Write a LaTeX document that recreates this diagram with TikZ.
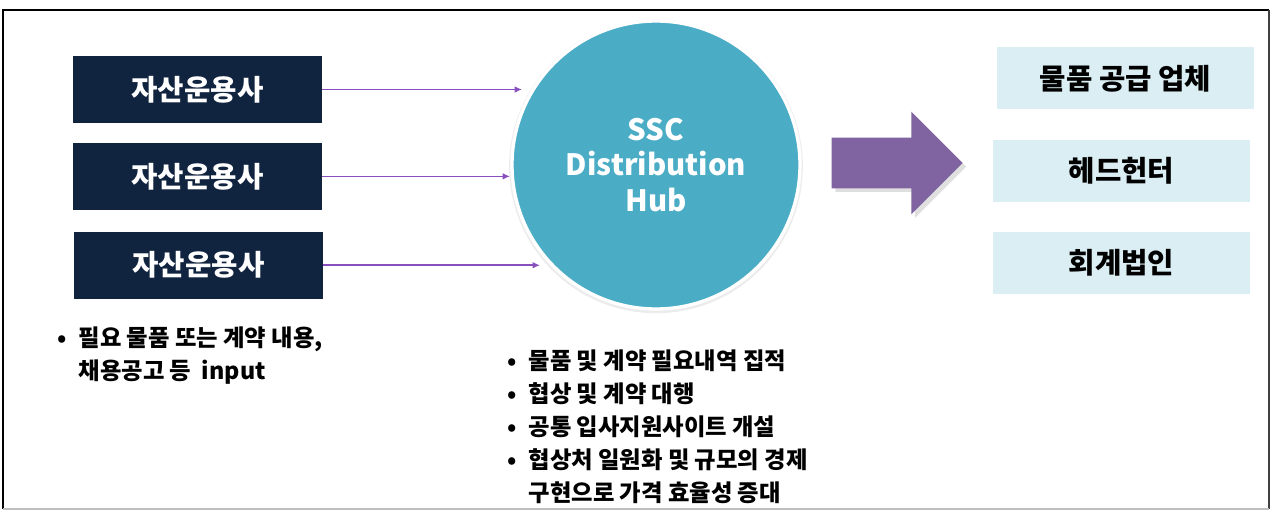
\documentclass[tikz,border=0pt]{standalone}
\usepackage{fontspec}
\setmainfont{Noto Sans CJK KR}
\usetikzlibrary{positioning, arrows.meta, shapes.arrows, shadows}
\definecolor{navy}{HTML}{10233F}
\definecolor{hubblue}{HTML}{4BACC6}
\definecolor{paleblue}{HTML}{DAEEF3}
\definecolor{linkpurple}{HTML}{8A4FBF}
\definecolor{bigpurple}{HTML}{8064A2}
\newcommand{\notebullet}{\makebox[16pt][l]{\textbullet}}

\begin{document}
\begin{tikzpicture}[x=0.75pt, y=-0.75pt, node distance=14.25pt,
	firm/.style={fill=navy, text=white, font=\bfseries\fontsize{21.5}{25}\selectfont, minimum width=186.75pt, minimum height=50.5pt, inner sep=0pt},
	partner/.style={fill=paleblue, text=black, font=\bfseries\fontsize{21.5}{25}\selectfont, minimum width=192.75pt, minimum height=46.5pt, inner sep=0pt},
	hub/.style={circle, fill=hubblue, draw=white, line width=2.5pt, minimum size=216pt, inner sep=0pt, text=white, align=center, font=\bfseries\fontsize{22}{26.5}\selectfont, drop shadow={opacity=0.15, shadow xshift=0pt, shadow yshift=-1pt, shadow scale=1.02}},
	bigarrow/.style={single arrow, fill=bigpurple, minimum height=98.25pt, single arrow head extend=19.5pt, inner sep=0pt, drop shadow={opacity=0.25}},
	feed/.style={-{Latex[length=5.5pt, width=5pt]}, draw=linkpurple, line width=1.3pt},
	note/.style={font=\bfseries\fontsize{17.5}{24.75}\selectfont, align=left, inner sep=0pt, anchor=north west}]
	\useasboundingbox (0,0) rectangle (1271,510);
	
	\draw[line width=2.2pt] (2,10) -- (1269,10);
	\draw[line width=1.2pt] (3,10) -- (3,509);
	\draw[darkgray, line width=1.5pt] (1269,10) -- (1269,509);
	\draw[gray!50, line width=1pt] (3,509) -- (1269,509);
	
	\node[firm] (f1) at (197.5,89.5) {자산운용사};
	\node[firm, below=of f1] (f2) {자산운용사};
	\node[firm, below=15.75pt of f2, xshift=0.75pt] (f3) {자산운용사};
	
	\node[hub] (hub) at (656,165) {SSC\\Distribution\\Hub};
	
	\coordinate (t1) at (f1.east -| 522,0);
	\coordinate (t2) at (f2.east -| 510,0);
	\coordinate (t3) at (f3.east -| 540,0);
	
	\draw
	(f1.east) edge[feed] (t1)
	(f2.east) edge[feed] (t2)
	(f3.east) edge[feed] (t3);
	
	\node[bigarrow] (push) at (884.5,163) {\rule{0pt}{37.5pt}};
	
	\node[partner] (p1) at (1125.5,78.5) {물품 공급 업체};
	\node[partner, below=22.5pt of p1, xshift=-3pt] (p2) {헤드헌터};
	\node[partner, below=21.75pt of p2] (p3) {회계법인};
	
	\node[note] (ask) at (57,327) {\notebullet 필요 물품 또는 계약 내용,\\\phantom{\notebullet}채용공고 등~~input};
	\node[note] (role) at (507,350) {\notebullet 물품 및 계약 필요내역 집적\\\notebullet 협상 및 계약 대행\\\notebullet 공통 입사지원사이트 개설\\\notebullet 협상처 일원화 및 규모의 경제\\\phantom{\notebullet}구현으로 가격 효율성 증대};
\end{tikzpicture}
\end{document}
